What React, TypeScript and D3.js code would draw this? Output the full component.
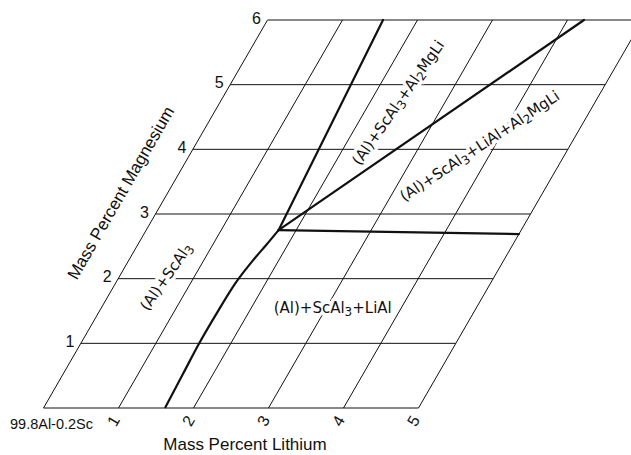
import React, { useEffect, useRef } from 'react';
import * as d3 from 'd3';

// grid ticks (mass percent)
const liTicks = [0, 1, 2, 3, 4, 5];
const mgTicks = [0, 1, 2, 3, 4, 5, 6];
const liTickLabels = ['1', '2', '3', '4', '5'];
const mgTickLabels = ['1', '2', '3', '4', '5', '6'];

// (Al)+ScAl3 / (Al)+ScAl3+LiAl curved boundary
const boundaryLi = [1.62, 1.597, 1.578, 1.58, 1.6, 1.66, 1.715, 1.765];
const boundaryMg = [0, 0.54, 0.99, 1.46, 1.95, 2.3, 2.52, 2.75];

// straight boundaries leaving the invariant point
const invariant = [1.765, 2.75];
const rayEndLi = [1.54, 4.22, 5.0];
const rayEndMg = [6, 6, 2.69];

// phase field labels: [text, subscript] pieces
const fieldLabels = [
  [['(Al)+ScAl', ''], ['3', 'sub']],
  [['(Al)+ScAl', ''], ['3', 'sub'], ['+Al', ''], ['2', 'sub'], ['MgLi', '']],
  [['(Al)+ScAl', ''], ['3', 'sub'], ['+LiAl+Al', ''], ['2', 'sub'], ['MgLi', '']],
  [['(Al)+ScAl', ''], ['3', 'sub'], ['+LiAl', '']],
];
const fieldLi = [0.625, 2.38, 3.8, 3.085];
const fieldMg = [2.03, 4.72, 4.05, 1.55];
const fieldAngle = [-55, -55, -33.5, 0];

const App = () => {
  const ref = useRef(null);

  useEffect(() => {
    const svg = d3.select(ref.current);
    svg.selectAll('*').remove();

    const x = d3.scaleLinear().domain([0, 5]).range([43.5, 418.5]);
    const y = d3.scaleLinear().domain([0, 6]).range([408, 20]);
    const skew = 1 / Math.tan(Math.PI / 3);
    const pt = (li, mg) => [x(li) + skew * (y(0) - y(mg)), y(mg)];
    const line = d3.line();

    // grid: horizontal Mg lines
    svg
      .selectAll('.mg-line')
      .data(mgTicks)
      .enter()
      .append('path')
      .attr('fill', 'none')
      .attr('stroke', '#111')
      .attr('stroke-width', 1)
      .attr('d', d => line([pt(0, d), pt(5, d)]));

    // grid: slanted Li lines
    svg
      .selectAll('.li-line')
      .data(liTicks)
      .enter()
      .append('path')
      .attr('fill', 'none')
      .attr('stroke', '#111')
      .attr('stroke-width', 1)
      .attr('d', d => line([pt(d, 0), pt(d, 6)]));

    // Mg tick labels
    svg
      .selectAll('.mg-label')
      .data(mgTickLabels)
      .enter()
      .append('text')
      .attr('x', (d, i) => pt(0, i + 1)[0] - 6.5)
      .attr('y', (d, i) => pt(0, i + 1)[1] + 3.5)
      .attr('text-anchor', 'end')
      .attr('font-family', 'Liberation Sans, Arial, sans-serif')
      .attr('font-size', 16)
      .attr('fill', '#111')
      .text(d => d);

    // Li tick labels, turned along the slant
    svg
      .selectAll('.li-label')
      .data(liTickLabels)
      .enter()
      .append('text')
      .attr('transform', (d, i) => 'translate(' + (x(i + 1) - 5) + ',421) rotate(-60)')
      .attr('text-anchor', 'middle')
      .attr('dominant-baseline', 'central')
      .attr('font-family', 'Liberation Sans, Arial, sans-serif')
      .attr('font-size', 16)
      .attr('fill', '#111')
      .text(d => d);

    // phase field labels: white halo copy first, then the ink on top
    const drawLabel = (parts, i, halo) => {
      const [cx, cy] = pt(fieldLi[i], fieldMg[i]);
      const t = svg
        .append('text')
        .attr('transform', 'translate(' + cx + ',' + cy + ') rotate(' + fieldAngle[i] + ')')
        .attr('text-anchor', 'middle')
        .attr('dominant-baseline', 'central')
        .attr('font-family', 'DejaVu Sans, sans-serif')
        .attr('font-size', 15)
        .attr('fill', halo ? '#fff' : '#111');
      if (halo) {
        t.attr('stroke', '#fff').attr('stroke-width', 7).attr('stroke-linejoin', 'round');
      }
      parts.forEach(([s, kind], j) => {
        const prev = j > 0 ? parts[j - 1][1] : '';
        const ts = t.append('tspan').text(s);
        if (kind === 'sub') ts.attr('dy', 4).attr('font-size', 12);
        else if (prev === 'sub') ts.attr('dy', -4);
      });
    };
    fieldLabels.forEach((parts, i) => drawLabel(parts, i, true));
    fieldLabels.forEach((parts, i) => drawLabel(parts, i, false));

    // phase boundaries
    const boundary = boundaryLi.map((li, i) => pt(li, boundaryMg[i]));
    svg
      .append('path')
      .attr('fill', 'none')
      .attr('stroke', '#111')
      .attr('stroke-width', 2.2)
      .attr('d', d3.line().curve(d3.curveCatmullRom)(boundary));

    svg
      .selectAll('.ray')
      .data(rayEndLi)
      .enter()
      .append('path')
      .attr('fill', 'none')
      .attr('stroke', '#111')
      .attr('stroke-width', 2.2)
      .attr('stroke-linecap', 'round')
      .attr('d', (d, i) => line([pt(invariant[0], invariant[1]), pt(d, rayEndMg[i])]));

    // axis titles
    svg
      .append('text')
      .attr('x', 10)
      .attr('y', 429)
      .attr('font-family', 'Liberation Sans, Arial, sans-serif')
      .attr('font-size', 14.5)
      .attr('fill', '#111')
      .text('99.8Al-0.2Sc');

    svg
      .append('text')
      .attr('x', 245)
      .attr('y', 450)
      .attr('text-anchor', 'middle')
      .attr('font-family', 'Liberation Sans, Arial, sans-serif')
      .attr('font-size', 17)
      .attr('fill', '#111')
      .text('Mass Percent Lithium');

    svg
      .append('text')
      .attr('transform', 'translate(121,193) rotate(-60)')
      .attr('text-anchor', 'middle')
      .attr('dominant-baseline', 'central')
      .attr('font-family', 'Liberation Sans, Arial, sans-serif')
      .attr('font-size', 17)
      .attr('fill', '#111')
      .text('Mass Percent Magnesium');
  }, []);

  return (
    <svg
      ref={ref}
      width={631}
      height={455}
      style={{ position: 'absolute', left: 0, top: 0, background: '#fff' }}
    />
  );
};

export default App;
